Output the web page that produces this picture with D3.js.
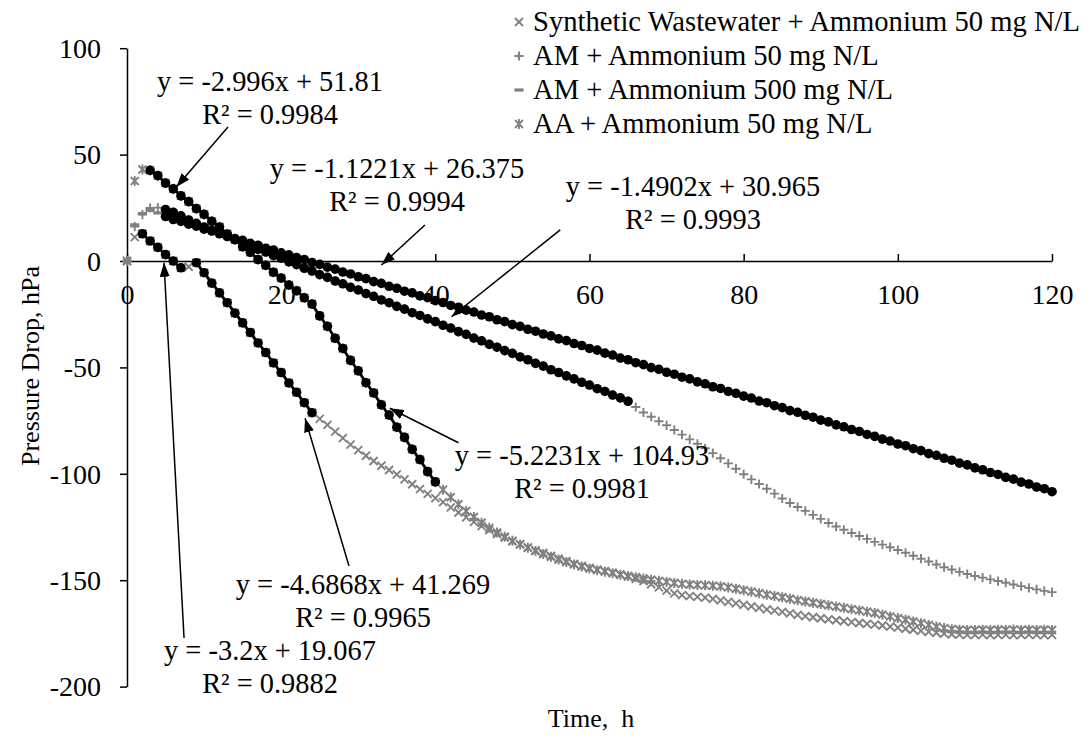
<!DOCTYPE html>
<html><head><meta charset="utf-8">
<script src="https://cdn.jsdelivr.net/npm/d3@7"></script>
<style>
body{margin:0;background:#fff}
svg text{font-family:"Liberation Serif","Times New Roman",serif;fill:#000}
</style></head><body>
<svg id="chart" width="1088" height="740"></svg>
<script>
// ---------------- DATA ----------------
const hours = [0,1,2,3,4,5,6,7,8,9,10,11,12,13,14,15,16,17,18,19,20,21,22,23,24,25,26,27,28,29,30,31,32,33,34,35,36,37,38,39,40,41,42,43,44,45,46,47,48,49,50,51,52,53,54,55,56,57,58,59,60,61,62,63,64,65,66,67,68,69,70,71,72,73,74,75,76,77,78,79,80,81,82,83,84,85,86,87,88,89,90,91,92,93,94,95,96,97,98,99,100,101,102,103,104,105,106,107,108,109,110,111,112,113,114,115,116,117,118,119,120];

const synthetic = [0,11.2,12.8,9.4,6.4,3.0,0.0,-3.2,-2.7,-0.8,
 -5.5,-10.4,-15.0,-19.6,-24.5,-29.1,-33.6,-38.5,-43.0,-47.9,
 -52.4,-57.3,-61.7,-66.6,-71.3,-74.2,-77.0,-80.2,-83.2,-86.3,
 -88.9,-91.5,-94.0,-96.2,-98.2,-100.3,-102.6,-104.9,-107.2,-109.4,
 -111.4,-113.3,-115.8,-118.2,-120.5,-122.6,-124.6,-126.5,-128.3,-130.0,
 -131.7,-133.1,-134.6,-136.0,-137.2,-138.6,-139.9,-141.1,-142.3,-143.3,
 -144.2,-145.0,-145.7,-146.5,-147.3,-148.3,-149.3,-150.4,-151.9,-153.4,
 -154.9,-156.2,-157.0,-157.5,-157.8,-158.2,-158.8,-159.5,-160.2,-160.9,
 -161.6,-162.3,-163.0,-163.7,-164.3,-164.9,-165.6,-166.3,-166.9,-167.4,
 -167.9,-168.4,-168.8,-169.3,-169.7,-170.1,-170.5,-170.9,-171.3,-171.8,
 -172.3,-172.8,-173.3,-173.8,-174.3,-174.7,-175.1,-175.4,-175.6,-175.7,
 -175.7,-175.6,-175.8,-175.7,-175.6,-175.8,-175.7,-175.6,-175.7,-175.8,
 -175.7];

const am50 = [0,16.2,21.8,24.9,25.1,24.2,22.9,21.2,19.3,17.7,
 16.0,14.4,13.0,11.5,10.2,8.5,7.2,5.5,4.2,2.5,
 1.3,-0.4,-1.7,-3.4,-4.7,-6.4,-7.7,-9.4,-10.7,-12.4,
 -13.6,-15.3,-16.6,-18.3,-19.6,-21.3,-22.6,-24.3,-25.6,-27.2,
 -28.5,-30.2,-31.5,-33.2,-34.5,-36.2,-37.5,-39.2,-40.5,-42.1,
 -43.4,-45.1,-46.4,-48.1,-49.4,-51.1,-52.4,-54.0,-55.4,-57.0,
 -58.3,-60.0,-61.3,-63.0,-64.3,-65.9,-68.6,-71.2,-73.2,-75.3,
 -77.2,-79.4,-81.6,-83.8,-85.9,-88.0,-90.3,-92.7,-95.1,-97.6,
 -100.2,-102.6,-104.8,-107.0,-109.3,-111.6,-113.7,-115.6,-117.4,-119.3,
 -121.2,-123.1,-124.8,-126.3,-127.8,-129.2,-130.6,-132.0,-133.3,-134.5,
 -135.8,-137.1,-138.5,-139.9,-141.2,-142.6,-143.9,-145.0,-146.1,-147.1,
 -148.0,-148.8,-149.6,-150.4,-151.2,-152.0,-152.8,-153.6,-154.3,-155.0,
 -155.6];

const am500 = [0,17.0,22.3,23.8,22.6,20.9,19.5,18.6,17.3,16.4,
 15.0,14.1,12.8,11.9,10.5,9.7,8.3,7.4,6.0,5.2,
 3.8,2.9,1.6,0.7,-0.7,-1.6,-2.9,-3.8,-5.2,-6.1,
 -7.4,-8.3,-9.7,-10.5,-11.9,-12.8,-14.2,-15.0,-16.4,-17.2,
 -18.6,-19.5,-20.9,-21.7,-23.1,-24.0,-25.4,-26.2,-27.6,-28.5,
 -29.9,-30.7,-32.1,-33.0,-34.3,-35.2,-36.6,-37.4,-38.8,-39.7,
 -41.1,-41.9,-43.3,-44.2,-45.6,-46.4,-47.8,-48.7,-50.1,-50.9,
 -52.3,-53.2,-54.6,-55.4,-56.8,-57.7,-59.1,-59.9,-61.3,-62.2,
 -63.5,-64.4,-65.8,-66.6,-68.0,-68.9,-70.3,-71.1,-72.5,-73.4,
 -74.8,-75.6,-77.0,-77.9,-79.2,-80.1,-81.5,-82.4,-83.7,-84.6,
 -86.0,-86.8,-88.2,-89.1,-90.5,-91.3,-92.7,-93.6,-95.0,-95.8,
 -97.2,-98.1,-99.4,-100.3,-101.7,-102.5,-103.9,-104.8,-106.2,-107.0,
 -108.4];

const aa50 = [0,37.6,43.0,42.6,40.1,36.6,33.9,30.6,27.9,24.6,
 21.9,18.6,16.0,12.7,10.0,6.7,4.1,0.7,-2.0,-5.3,
 -8.0,-11.3,-14.0,-17.3,-20.2,-25.8,-30.7,-36.3,-41.1,-46.7,
 -51.6,-57.2,-62.0,-67.6,-72.4,-78.1,-82.9,-88.5,-93.3,-99.0,
 -103.8,-107.5,-111.0,-114.3,-117.5,-120.3,-123.0,-125.4,-127.6,-129.6,
 -131.5,-133.2,-134.8,-136.3,-137.7,-139.0,-140.3,-141.5,-142.6,-143.6,
 -144.5,-145.3,-146.0,-146.7,-147.4,-148.0,-148.6,-149.2,-149.8,-150.3,
 -150.8,-151.3,-151.7,-152.0,-152.2,-152.4,-152.6,-152.9,-153.4,-154.0,
 -154.7,-155.4,-156.1,-156.8,-157.4,-158.0,-158.7,-159.4,-160.0,-160.6,
 -161.2,-161.8,-162.4,-163.0,-163.6,-164.2,-164.8,-165.4,-166.2,-167.0,
 -167.8,-168.6,-169.4,-170.2,-171.0,-171.8,-172.5,-173.0,-173.3,-173.4,
 -173.4,-173.3,-173.4,-173.3,-173.4,-173.2,-173.4,-173.3,-173.4,-173.3,
 -173.4];

const seriesNames = ["Synthetic Wastewater + Ammonium 50 mg N/L","AM + Ammonium 50 mg N/L","AM + Ammonium 500 mg N/L","AA + Ammonium 50 mg N/L"];
const seriesValues = [synthetic, am50, am500, aa50];
const seriesMarkers = ["cross","plus","dash","star"];

const xTicks = [0,20,40,60,80,100,120];
const yTicks = [100,50,0,-50,-100,-150,-200];

// linear fits (series index, time range, slope, intercept, R²)
const fitSeries    = [0, 0, 3, 3, 1, 2];
const fitStart     = [2, 9, 3, 24, 5, 5];
const fitEnd       = [7, 24, 23, 40, 65, 120];
const fitSlope     = ["-3.2","-4.6868","-2.996","-5.2231","-1.4902","-1.1221"];
const fitIntercept = ["19.067","41.269","51.81","104.93","30.965","26.375"];
const fitR2        = ["0.9882","0.9965","0.9984","0.9981","0.9993","0.9994"];
// annotation arrows in data units: [time, pressure] of tail and head
const arrowTail = [[7.4,-177.2],[28.8,-143.3],[13.1,63],[43.0,-85.4],[56.2,14.6],[38.65,16.9]];
const arrowHead = [[4.8,-0.8],[23.1,-73.9],[6.4,34.8],[34.1,-69.2],[42.1,-26.2],[33.0,-1.9]];

// ---------------- LAYOUT ----------------
const FS = 28;
const svg = d3.select("#chart");
const x = d3.scaleLinear().domain([0,120]).range([127,1052]);
const y = d3.scaleLinear().domain([-200,100]).range([686.6,48.2]);
const gray = "#808080";

// axes
const gy = svg.append("g").attr("transform",`translate(${x(0)},0)`)
  .call(d3.axisLeft(y).tickValues(yTicks).tickFormat(d=>String(d)).tickSizeInner(7).tickSizeOuter(0).tickPadding(19));
const gx = svg.append("g").attr("transform",`translate(0,${y(0)})`)
  .call(d3.axisBottom(x).tickValues(xTicks).tickFormat(d=>String(d)).tickSizeInner(-7).tickSizeOuter(0).tickPadding(23));
[gx,gy].forEach(g=>{
  g.select(".domain").attr("stroke","#000").attr("stroke-width",1.5);
  g.selectAll(".tick line").attr("stroke","#000").attr("stroke-width",1.5);
  g.selectAll("text").attr("font-size",FS).attr("font-family",'"Liberation Serif",serif').attr("fill","#000");
});
gy.selectAll("text").attr("dy","0.33em");

// axis titles
svg.append("text").attr("transform","translate(30,366) rotate(-90)")
  .attr("text-anchor","middle").attr("dy","0.33em").attr("font-size",FS-2).text("Pressure Drop, hPa");
svg.append("text").attr("x",591).attr("y",718).attr("text-anchor","middle")
  .attr("dy","0.33em").attr("font-size",FS-2).attr("xml:space","preserve").text("Time,  h");

// marker paths
function markerPath(kind){
  const s=4;
  if(kind==="cross") return `M${-s},${-s}L${s},${s}M${-s},${s}L${s},${-s}`;
  if(kind==="plus") return `M-4.6,0H4.6M0,-4.6V4.6`;
  if(kind==="dash") return `M-4.6,0H4.6`;
  return `M${-s},${-s}L${s},${s}M${-s},${s}L${s},${-s}M0,-5V5`;
}
function drawMarker(g,kind,cx,cy){
  g.append("path").attr("d",markerPath(kind)).attr("transform",`translate(${cx},${cy})`)
    .attr("fill","none").attr("stroke",gray).attr("stroke-width",kind==="dash"?3.2:1.9);
}

// series gray markers
const plot = svg.append("g");
[3,0,2,1].forEach(si=>{
  const g = plot.append("g");
  hours.forEach((t,i)=>drawMarker(g,seriesMarkers[si],x(t),y(seriesValues[si][i])));
});

// black points used for fits
const dots = plot.append("g");
fitSeries.forEach((si,k)=>{
  hours.forEach((t,i)=>{
    if(t>=fitStart[k] && t<=fitEnd[k]){
      dots.append("circle").attr("cx",x(t)).attr("cy",y(seriesValues[si][i])).attr("r",4.8).attr("fill","#000");
    }
  });
});
// trendlines
fitSeries.forEach((si,k)=>{
  const m=+fitSlope[k], b=+fitIntercept[k];
  plot.append("line").attr("x1",x(fitStart[k])).attr("y1",y(m*fitStart[k]+b))
    .attr("x2",x(fitEnd[k])).attr("y2",y(m*fitEnd[k]+b)).attr("stroke","#000").attr("stroke-width",2.8);
});

// arrows
svg.append("defs").append("marker").attr("id","ah").attr("viewBox","0 0 14 10")
  .attr("refX",14).attr("refY",5).attr("markerWidth",14).attr("markerHeight",10)
  .attr("markerUnits","userSpaceOnUse").attr("orient","auto")
  .append("path").attr("d","M0,0L14,5L0,10Z").attr("fill","#000");
arrowTail.forEach((a,k)=>{
  svg.append("line").attr("x1",x(a[0])).attr("y1",y(a[1]))
    .attr("x2",x(arrowHead[k][0])).attr("y2",y(arrowHead[k][1]))
    .attr("stroke","#000").attr("stroke-width",1.5).attr("marker-end","url(#ah)");
});

// equation labels
const labelPos = [[270,82],[363,585],[270,82],[582,456],[693,187],[397,169]];
labelPos[0] = [270,651];
fitSeries.forEach((si,k)=>{
  const t = svg.append("text").attr("text-anchor","middle").attr("font-size",28.4);
  t.append("tspan").attr("x",labelPos[k][0]).attr("y",labelPos[k][1]).attr("dy","0.33em")
    .text(`y = ${fitSlope[k]}x + ${fitIntercept[k]}`);
  t.append("tspan").attr("x",labelPos[k][0]).attr("y",labelPos[k][1]+33).attr("dy","0.33em")
    .text(`R² = ${fitR2[k]}`);
});

// legend (right-aligned block at top right)
const LFS = 28.6;
const leg = svg.append("g");
const legTexts = seriesNames.map((name,i)=>
  leg.append("text").attr("y",22+i*34).attr("dy","0.33em").attr("font-size",LFS).text(name));
const maxW = d3.max(legTexts, t=>t.node().getComputedTextLength());
const legX = 1080 - maxW;
legTexts.forEach((t,i)=>{
  t.attr("x",legX);
  drawMarker(leg,seriesMarkers[i],legX-14,22+i*34);
});
</script>
</body></html>
